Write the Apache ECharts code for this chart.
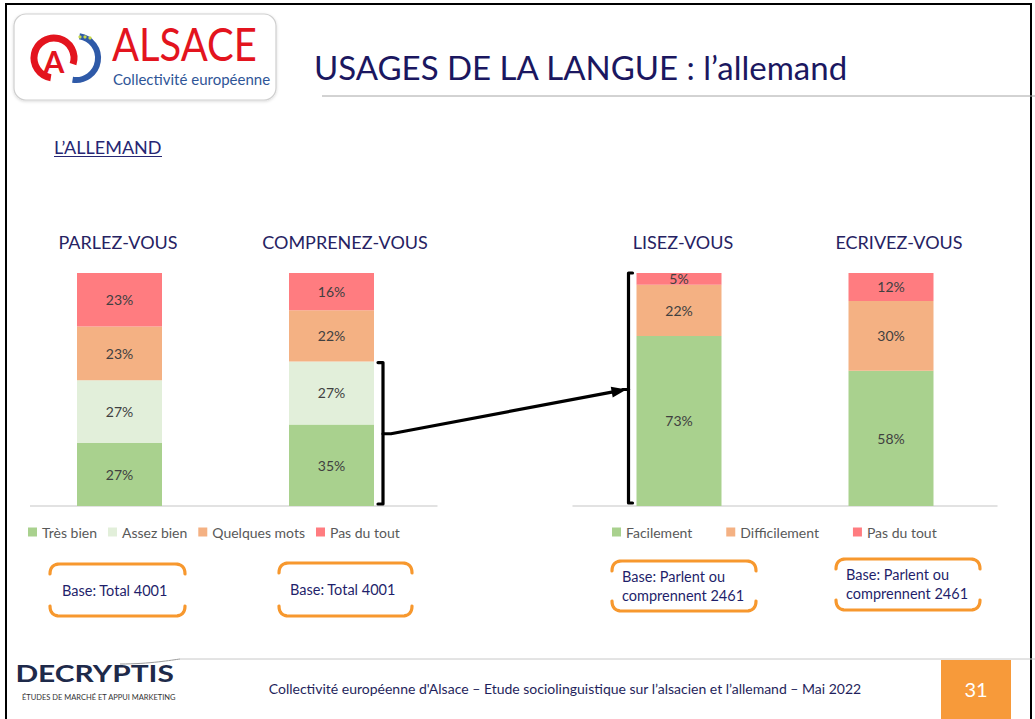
<!DOCTYPE html>
<html><head><meta charset="utf-8">
<script src="https://cdn.jsdelivr.net/npm/echarts@6/dist/echarts.min.js"></script>
<style>html,body{margin:0;padding:0;background:#fff}#c{width:1035px;height:719px}</style>
</head><body><div id="c"></div>
<script>
// ---- data ----
const leftCats = ['PARLEZ-VOUS', 'COMPRENEZ-VOUS'];
const rightCats = ['LISEZ-VOUS', 'ECRIVEZ-VOUS'];
const tresBien = [27, 35];
const assezBien = [27, 27];
const quelquesMots = [23, 22];
const pasDuToutL = [23, 16];
const facilement = [73, 58];
const difficilement = [22, 30];
const pasDuToutR = [5, 12];
const leftBases = ['Base: Total 4001', 'Base: Total 4001'];
const rightBases = ['Base: Parlent ou\ncomprennent 2461', 'Base: Parlent ou\ncomprennent 2461'];

const FONT = 'Lato';
const C_GREEN = '#A9D18E', C_LIGHT = '#E2EFDA', C_ORANGE = '#F4B183', C_RED = '#FF7C80';

const chart = echarts.init(document.getElementById('c'), null, {renderer: 'svg'});

const lbl = {show: true, position: 'inside', color: '#404040', fontFamily: FONT, fontSize: 14,
  formatter: p => p.value + '%'};

function mk(name, arr, color, idx) {
  return {type: 'bar', name, xAxisIndex: idx, yAxisIndex: idx, stack: 'S' + idx, barWidth: 85,
    itemStyle: {color}, label: lbl, emphasis: {disabled: true}, data: arr};
}

const legendText = {color: '#595959', fontFamily: FONT, fontSize: 14};

chart.setOption({
  animation: false,
  backgroundColor: '#fff',
  grid: [
    {left: 13.5, width: 424, top: 273, height: 233},
    {left: 573, width: 424, top: 273, height: 233}
  ],
  xAxis: [
    {type: 'category', gridIndex: 0, data: leftCats, axisLabel: {show: false}, axisTick: {show: false},
      axisLine: {show: false}},
    {type: 'category', gridIndex: 1, data: rightCats, axisLabel: {show: false}, axisTick: {show: false},
      axisLine: {show: true, lineStyle: {color: '#D9D9D9', width: 1.5}}}
  ],
  yAxis: [
    {type: 'value', gridIndex: 0, min: 0, max: 100, show: false},
    {type: 'value', gridIndex: 1, min: 0, max: 100, show: false}
  ],
  legend: [
    {data: ['Très bien', 'Assez bien', 'Quelques mots', 'Pas du tout'], left: 23, top: 520,
      itemWidth: 9, itemHeight: 9, itemGap: 11, icon: 'rect', textStyle: legendText, selectedMode: false},
    {data: ['Facilement', 'Difficilement', 'Pas du tout '], left: 607, top: 520,
      itemWidth: 9, itemHeight: 9, itemGap: 34, icon: 'rect', textStyle: legendText, selectedMode: false}
  ],
  series: [
    mk('Très bien', tresBien, C_GREEN, 0),
    mk('Assez bien', assezBien, C_LIGHT, 0),
    mk('Quelques mots', quelquesMots, C_ORANGE, 0),
    mk('Pas du tout', pasDuToutL, C_RED, 0),
    mk('Facilement', facilement, C_GREEN, 1),
    mk('Difficilement', difficilement, C_ORANGE, 1),
    mk('Pas du tout ', pasDuToutR, C_RED, 1)
  ]
});

// ---- annotations computed from data positions ----
const g = [];
const px0 = (x, y) => chart.convertToPixel({xAxisIndex: 0, yAxisIndex: 0}, [x, y]);
const px1 = (x, y) => chart.convertToPixel({xAxisIndex: 1, yAxisIndex: 1}, [x, y]);
const half = 42.5;
const black = {stroke: '#000', lineWidth: 3.2, fill: 'none', lineCap: 'round', lineJoin: 'round'};

// left baseline (axis line of the left panel)
const b0 = px0(0, 0);
g.push({type: 'line', shape: {x1: b0[0] - 89.5, y1: b0[1], x2: b0[0] + 318, y2: b0[1]}, style: {stroke: '#D9D9D9', lineWidth: 1.5}});

// bracket beside COMPRENEZ (très bien + assez bien)
const topL = px0(1, tresBien[1] + assezBien[1]);
const botL = px0(1, 0);
const bxL = topL[0] + half + 9;
g.push({type: 'polyline', shape: {points: [[bxL - 5, topL[1] + 1], [bxL, topL[1] + 1], [bxL, botL[1] - 2], [bxL - 5, botL[1] - 2]]}, style: black});
// bracket beside LISEZ (whole bar)
const topR = px1(0, 100);
const botR = px1(0, 0);
const bxR = topR[0] - half - 8;
g.push({type: 'polyline', shape: {points: [[bxR + 4, topR[1]], [bxR, topR[1]], [bxR, botR[1] - 3], [bxR + 4, botR[1] - 3]]}, style: black});
// arrow between bracket midpoints
const a0 = [bxL, px0(1, (tresBien[1] + assezBien[1]) / 2)[1]];
const a1 = [bxR - 2, px1(0, 50)[1]];
const dx = a1[0] - a0[0], dy = a1[1] - a0[1], L = Math.hypot(dx, dy);
const ux = dx / L, uy = dy / L;
const hl = 15, hw = 5.5;
const base = [a1[0] - ux * hl, a1[1] - uy * hl];
g.push({type: 'polyline', shape: {points: [a0, [a0[0] + 8, a0[1]], base]}, style: black});
g.push({type: 'polygon', shape: {points: [a1, [base[0] - uy * hw, base[1] + ux * hw], [base[0] + uy * hw, base[1] - ux * hw]]}, style: {fill: '#000'}});
g.push({type: 'line', shape: {x1: a1[0] - 4, y1: a1[1], x2: bxR, y2: a1[1]}, style: black});

// ---- slide furniture ----
const txt = (text, x, y, size, color, extra) => ({type: 'text', x, y, style: Object.assign({text, fontFamily: FONT, fontSize: size, fill: color, textVerticalAlign: 'middle', verticalAlign: 'middle'}, extra || {})});

g.push({type: 'rect', shape: {x: 6, y: 4, width: 1025, height: 740}, style: {fill: 'none', stroke: '#000', lineWidth: 2}});
// Alsace logo
g.push({type: 'rect', shape: {x: 14, y: 14, width: 262, height: 86, r: 12}, style: {fill: '#fff', stroke: '#CFCFCF', lineWidth: 1.2, shadowBlur: 3, shadowColor: 'rgba(0,0,0,0.15)', shadowOffsetY: 1}});
g.push({type: 'arc', shape: {cx: 54, cy: 58, r: 20, startAngle: Math.PI * 0.55, endAngle: Math.PI * 2.1}, style: {stroke: '#E3141E', lineWidth: 7, fill: 'none'}});
g.push(txt('A', 54, 61, 30, '#E3141E', {textAlign: 'center', fontWeight: 'bold'}));
g.push({type: 'arc', shape: {cx: 76, cy: 58, r: 22, startAngle: -Math.PI * 0.45, endAngle: Math.PI * 0.55}, style: {stroke: '#2F5AA8', lineWidth: 6, fill: 'none'}});
g.push({type: 'circle', shape: {cx: 80, cy: 37, r: 1.6}, style: {fill: '#C8D84A'}});
g.push({type: 'circle', shape: {cx: 85, cy: 37, r: 1.6}, style: {fill: '#C8D84A'}});
g.push({type: 'circle', shape: {cx: 90, cy: 38, r: 1.6}, style: {fill: '#C8D84A'}});
g.push(Object.assign(txt('ALSACE', 112, 51, 40, '#E3141E'), {scaleY: 1.15, originY: 51}));
g.push(txt('Collectivité européenne', 113, 79, 15, '#2F5597'));
// title
g.push(txt('USAGES DE LA LANGUE : l\u2019allemand', 314, 67, 33, '#1B1760'));
g.push({type: 'line', shape: {x1: 322, y1: 96, x2: 1035, y2: 96}, style: {stroke: '#A6A6A6', lineWidth: 1}});
// section
g.push(txt('L\u2019ALLEMAND', 54, 147, 18, '#262673'));
g.push({type: 'line', shape: {x1: 54, y1: 156.5, x2: 162, y2: 156.5}, style: {stroke: '#262673', lineWidth: 1}});
// chart headers
const heads = [[leftCats[0], 118], [leftCats[1], 345], [rightCats[0], 683], [rightCats[1], 899]];
heads.forEach(h => g.push(txt(h[0], h[1], 242, 18, '#262262', {textAlign: 'center'})));
// base boxes (bracket-shaped orange frames)
function quad(p0, c, p1, n) {
  const pts = [];
  for (let i = 0; i <= n; i++) {
    const t = i / n, m = 1 - t;
    pts.push([m * m * p0[0] + 2 * m * t * c[0] + t * t * p1[0], m * m * p0[1] + 2 * m * t * c[1] + t * t * p1[1]]);
  }
  return pts;
}
const orange = {stroke: '#F7982E', lineWidth: 3.2, fill: 'none', lineCap: 'round', lineJoin: 'round'};
function box(x0, x1, yt, yb) {
  const r = 10, d = 10;
  const top = quad([x0, yt + d], [x0, yt], [x0 + r, yt], 8).concat(quad([x1 - r, yt], [x1, yt], [x1, yt + d], 8));
  const bot = quad([x0, yb - d], [x0, yb], [x0 + r, yb], 8).concat(quad([x1 - r, yb], [x1, yb], [x1, yb - d], 8));
  g.push({type: 'polyline', shape: {points: top}, style: orange});
  g.push({type: 'polyline', shape: {points: bot}, style: orange});
}
box(50, 185, 564, 616);
box(279, 412, 563, 616);
box(612, 756, 561, 611);
box(836, 980, 559, 610);
g.push(txt(leftBases[0], 62, 590, 14.5, '#1F1F6B'));
g.push(txt(leftBases[1], 290, 589, 14.5, '#1F1F6B'));
g.push(txt(rightBases[0], 622, 586, 14.5, '#1F1F6B', {lineHeight: 19}));
g.push(txt(rightBases[1], 846, 584, 14.5, '#1F1F6B', {lineHeight: 19}));
// footer
g.push({type: 'line', shape: {x1: 180, y1: 659, x2: 1035, y2: 659}, style: {stroke: '#C8C8C8', lineWidth: 1}});
g.push({type: 'bezierCurve', shape: {x1: 120, y1: 664, x2: 180, y2: 659, cpx1: 150, cpy1: 664, cpx2: 172, cpy2: 660}, style: {stroke: '#9A9A9A', lineWidth: 1, fill: 'none'}});
g.push(Object.assign(txt('DECRYPTIS', 22, 673, 23, '#1E2A4A', {fontWeight: 'bold'}), {scaleX: 1.3, originX: 22}));
g.push(txt('ÉTUDES DE MARCHÉ ET APPUI MARKETING', 22, 697, 7.5, '#333333'));
g.push(txt('Collectivité européenne d\'Alsace \u2013 Etude sociolinguistique sur l\u2019alsacien et l\u2019allemand \u2013 Mai 2022', 565, 688, 14, '#1F1F5C', {textAlign: 'center'}));
g.push({type: 'rect', shape: {x: 941, y: 660, width: 70, height: 60}, style: {fill: '#F79A3A'}});
g.push(txt('31', 976, 689, 20, '#FFFFFF', {textAlign: 'center'}));

chart.setOption({graphic: g});
</script></body></html>
